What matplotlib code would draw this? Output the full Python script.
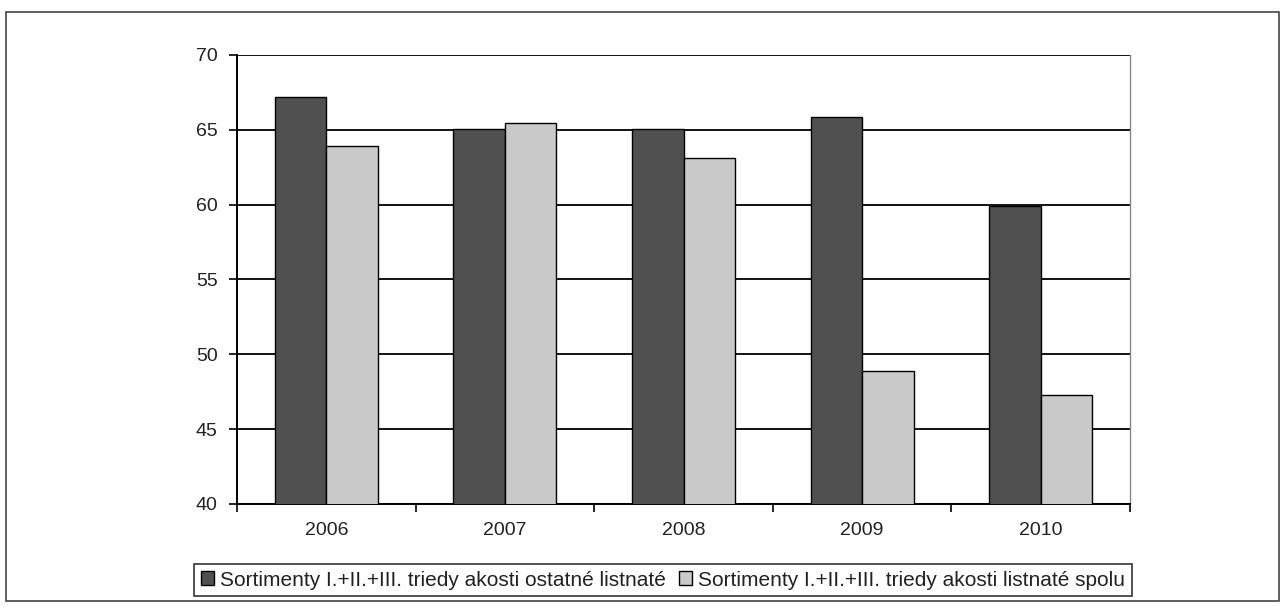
import matplotlib
matplotlib.use("Agg")
import matplotlib.pyplot as plt
from matplotlib.patches import Rectangle
import numpy as np

plt.rcParams['font.family'] = ['Liberation Sans', 'DejaVu Sans']

years = ["2006", "2007", "2008", "2009", "2010"]
ostatne = [67.2, 65.05, 65.05, 65.85, 59.9]
spolu = [63.9, 65.45, 63.15, 48.9, 47.25]
labels = ["Sortimenty I.+II.+III. triedy akosti ostatné listnaté",
          "Sortimenty I.+II.+III. triedy akosti listnaté spolu"]
yticks = [40, 45, 50, 55, 60, 65, 70]

W, H = 1287, 608
fig = plt.figure(figsize=(W / 100, H / 100), dpi=100)
fig.patches.append(Rectangle((6 / W, 1 - 601 / H), (1279 - 6) / W, (601 - 12) / H,
                             transform=fig.transFigure, fill=False,
                             edgecolor='#444444', linewidth=1.2))

ax = fig.add_axes([237 / W, 1 - 504 / H, (1130 - 237) / W, (504 - 55) / H])
x = np.arange(len(years))
bw = 0.288
b1 = ax.bar(x - bw / 2, ostatne, bw, color='#505050', edgecolor='black', linewidth=1.0,
            zorder=3, label=labels[0])
b2 = ax.bar(x + bw / 2, spolu, bw, color='#c9c9c9', edgecolor='black', linewidth=1.0,
            zorder=3, label=labels[1])

ax.set_xlim(-0.5, len(years) - 0.5)
ax.set_ylim(40, 70)
ax.set_yticks(yticks)
ax.set_yticklabels([str(v) for v in yticks], fontsize=14, color='#222222')
ax.yaxis.grid(True, color='black', linewidth=1.3, zorder=0)
ax.set_xticks(x)
ax.set_xticklabels(years, fontsize=14, color='#222222')
ax.set_xticks(np.arange(-0.5, len(years), 1.0), minor=True)
ax.tick_params(axis='x', which='major', length=0, pad=13)
ax.tick_params(axis='x', which='minor', length=6, direction='out', width=1.2)
ax.tick_params(axis='y', length=6, direction='out', width=1.2, pad=8)
for s in ['left', 'bottom']:
    ax.spines[s].set_linewidth(1.4)
    ax.spines[s].set_color('black')
ax.spines['top'].set_visible(False)
ax.spines['right'].set_color('#888888')
ax.spines['right'].set_linewidth(1.0)
ax.set_axisbelow(True)

leg = fig.legend(handles=[b1, b2], labels=labels, loc='center',
                 bbox_to_anchor=(663 / W, 1 - 580 / H), ncol=2, fontsize=15,
                 frameon=True, fancybox=False, edgecolor='black',
                 handlelength=0.65, handleheight=0.65, handletextpad=0.3,
                 columnspacing=0.6, borderpad=0.3, borderaxespad=0)
leg.get_frame().set_linewidth(1.2)
for t in leg.get_texts():
    t.set_color('#222222')

fig.savefig("out.png", dpi=100)
